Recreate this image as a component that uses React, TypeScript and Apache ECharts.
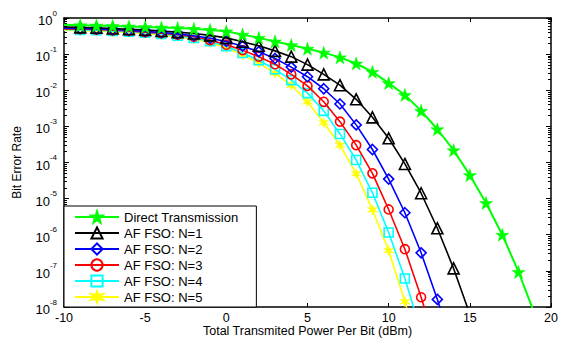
import React, { useEffect, useRef } from "react";
import * as echarts from "echarts";

const xValues = [-10, -9, -8, -7, -6, -5, -4, -3, -2, -1, 0, 1, 2, 3, 4, 5, 6, 7, 8, 9, 10, 11, 12, 13, 14, 15, 16, 17, 18, 19];

const directTransmission = [0.646, 0.631, 0.617, 0.603, 0.582, 0.562, 0.543, 0.525, 0.501, 0.468, 0.427, 0.347, 0.282, 0.224, 0.178, 0.141, 0.110, 0.0813, 0.0550, 0.0324, 0.0158, 7.41e-3, 2.69e-3, 8.32e-4, 2.19e-4, 4.47e-5, 7.59e-6, 1.0e-6, 9.33e-8, 6.31e-9];
const afN1 = [0.562, 0.550, 0.537, 0.513, 0.490, 0.468, 0.437, 0.407, 0.372, 0.331, 0.282, 0.221, 0.170, 0.123, 0.0851, 0.0513, 0.0275, 0.0138, 5.62e-3, 1.78e-3, 4.68e-4, 9.12e-5, 1.41e-5, 1.51e-6, 1.17e-7, 6.31e-9];
const afN2 = [0.525, 0.513, 0.501, 0.479, 0.457, 0.427, 0.398, 0.363, 0.324, 0.275, 0.224, 0.166, 0.117, 0.0759, 0.0437, 0.0237, 0.0110, 4.17e-3, 1.10e-3, 2.29e-4, 3.47e-5, 4.07e-6, 3.16e-7, 1.62e-8, 6.31e-10];
const afN3 = [0.501, 0.490, 0.479, 0.457, 0.437, 0.407, 0.380, 0.347, 0.302, 0.245, 0.182, 0.129, 0.0851, 0.0525, 0.0275, 0.0132, 4.79e-3, 1.35e-3, 3.02e-4, 5.01e-5, 5.01e-6, 3.98e-7, 1.86e-8, 6.31e-10];
const afN4 = [0.479, 0.468, 0.457, 0.437, 0.417, 0.389, 0.363, 0.324, 0.282, 0.229, 0.166, 0.107, 0.0676, 0.0380, 0.0191, 8.32e-3, 2.69e-3, 6.17e-4, 1.17e-4, 1.45e-5, 1.15e-6, 6.17e-8, 2.0e-9];
const afN5 = [0.457, 0.447, 0.437, 0.417, 0.398, 0.372, 0.339, 0.302, 0.263, 0.209, 0.151, 0.0955, 0.0562, 0.0295, 0.0138, 4.79e-3, 1.26e-3, 3.02e-4, 4.90e-5, 4.90e-6, 3.63e-7, 1.41e-8, 3.98e-10];

const seriesNames = ["Direct Transmission", "AF FSO: N=1", "AF FSO: N=2", "AF FSO: N=3", "AF FSO: N=4", "AF FSO: N=5"];

const FONT = "'Liberation Sans', Arial, sans-serif";
const STAR5 = "path://M50,0 L61.8,35.4 L97.6,34.5 L69.1,56.2 L79.4,90.5 L50,70 L20.6,90.5 L30.9,56.2 L2.4,34.5 L38.2,35.4 Z";
const STAR6 = "path://M50,0 L60,33 L93,25 L68,50 L93,75 L60,67 L50,100 L40,67 L7,75 L32,50 L7,25 L40,33 Z";

export default function App() {
  const ref = useRef<HTMLDivElement>(null);
  useEffect(() => {
    if (!ref.current) return;
    const chart = echarts.init(ref.current, null, { renderer: "svg" });
    const pair = (ys: number[]) =>
      ys.map((y, i) => (i === 0 ? { value: [xValues[i], y], symbol: "none" } : { value: [xValues[i], y] }));
    const styles = [
      { data: directTransmission, color: "#00ff00", symbol: STAR5, size: 13, filled: true, width: 2 },
      { data: afN1, color: "#000000", symbol: "triangle", size: 11, filled: false, width: 1.6 },
      { data: afN2, color: "#0000ff", symbol: "diamond", size: 10, filled: false, width: 1.6 },
      { data: afN3, color: "#ff0000", symbol: "circle", size: 9, filled: false, width: 1.6 },
      { data: afN4, color: "#00ffff", symbol: "rect", size: 9, filled: false, width: 1.6 },
      { data: afN5, color: "#ffff00", symbol: STAR6, size: 10, filled: true, width: 1.6 },
    ];
    const series = styles.map((s, k) => ({
      name: seriesNames[k],
      type: "line",
      data: pair(s.data),
      xAxisIndex: 0,
      yAxisIndex: 0,
      clip: true,
      symbol: s.symbol,
      symbolSize: s.size,
      showSymbol: true,
      lineStyle: { color: s.color, width: s.width },
      itemStyle: s.filled
        ? { color: s.color, borderColor: s.color, borderWidth: 0.5 }
        : { color: "rgba(255,255,255,0)", borderColor: s.color, borderWidth: 1.6 },
      z: 3 + (6 - k),
    }));
    const axisLine = { show: true, onZero: false, lineStyle: { color: "#000", width: 1.5 } };
    chart.setOption({
      animation: false,
      backgroundColor: "#fff",
      grid: { left: 64, right: 10, top: 18, bottom: 31, containLabel: false, outerBoundsMode: "none" },
      legend: {
        orient: "vertical",
        left: 64,
        top: 206,
        data: seriesNames,
        backgroundColor: "#fff",
        borderColor: "#000",
        borderWidth: 1,
        borderRadius: 0,
        padding: [4, 18, 3, 10],
        itemWidth: 44,
        itemHeight: 14,
        itemGap: 2,
        textStyle: { fontFamily: FONT, fontSize: 13, color: "#000", lineHeight: 14 },
        z: 20,
      },
      xAxis: [
        {
          type: "value",
          position: "bottom",
          min: -10,
          max: 20,
          interval: 5,
          axisLine,
          axisTick: { show: true, inside: true, length: 4, lineStyle: { color: "#000" } },
          axisLabel: { margin: 5, fontFamily: FONT, fontSize: 12.5, lineHeight: 12, color: "#000" },
          splitLine: { show: false },
          name: "Total Transmited Power Per Bit (dBm)",
          nameLocation: "middle",
          nameGap: 18,
          nameMoveOverlap: false,
          nameTextStyle: { fontFamily: FONT, fontSize: 12.5, lineHeight: 12, color: "#000" },
        },
        {
          type: "value",
          position: "top",
          min: -10,
          max: 20,
          interval: 5,
          axisLine,
          axisTick: { show: true, inside: true, length: 4, lineStyle: { color: "#000" } },
          axisLabel: { show: false },
          splitLine: { show: false },
        },
      ],
      yAxis: [
        {
          type: "log",
          logBase: 10,
          position: "left",
          min: 1e-8,
          max: 1,
          splitNumber: 8,
          axisLine,
          axisTick: { show: true, inside: true, length: 5, lineStyle: { color: "#000" } },
          minorTick: { show: true, splitNumber: 9, length: 3, lineStyle: { color: "#000" } },
          axisLabel: {
            margin: 7,
            color: "#000",
            fontFamily: FONT,
            formatter: (v: number) => `{b|10}{e|${Math.round(Math.log10(v))}}`,
            rich: {
              b: { fontFamily: FONT, fontSize: 13, lineHeight: 18, verticalAlign: "bottom", color: "#000" },
              e: { fontFamily: FONT, fontSize: 8, lineHeight: 10, verticalAlign: "top", color: "#000" },
            },
          },
          splitLine: { show: false },
          name: "Bit Error Rate",
          nameLocation: "middle",
          nameGap: 41,
          nameMoveOverlap: false,
          nameTextStyle: { fontFamily: FONT, fontSize: 12, color: "#000" },
        },
        {
          type: "log",
          logBase: 10,
          position: "right",
          min: 1e-8,
          max: 1,
          splitNumber: 8,
          axisLine,
          axisTick: { show: true, inside: true, length: 5, lineStyle: { color: "#000" } },
          minorTick: { show: true, splitNumber: 9, length: 3, lineStyle: { color: "#000" } },
          axisLabel: { show: false },
          splitLine: { show: false },
        },
      ],
      series,
    });
    return () => chart.dispose();
  }, []);
  return <div ref={ref} style={{ position: "fixed", left: 0, top: 0, width: 561, height: 338 }} />;
}
